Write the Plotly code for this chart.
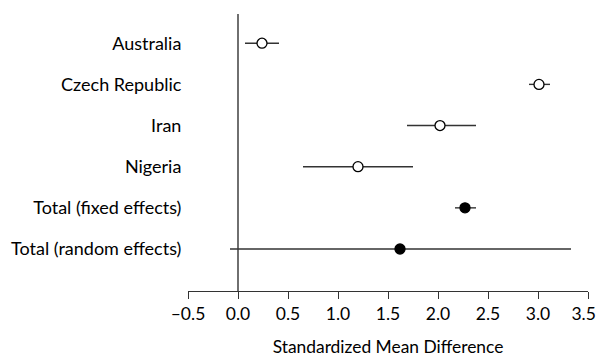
import plotly.graph_objects as go

studies = ["Australia", "Czech Republic", "Iran", "Nigeria",
           "Total (fixed effects)", "Total (random effects)"]
smd = [0.24, 3.01, 2.02, 1.20, 2.27, 1.62]
ci_low = [0.07, 2.91, 1.69, 0.65, 2.17, -0.08]
ci_high = [0.41, 3.12, 2.38, 1.75, 2.38, 3.33]
is_total = [False, False, False, False, True, True]
xticks = [-0.5, 0.0, 0.5, 1.0, 1.5, 2.0, 2.5, 3.0, 3.5]
xticklabels = ["\u20130.5", "0.0", "0.5", "1.0", "1.5", "2.0", "2.5", "3.0", "3.5\u2005\u2005"]

FONT = "Lato, 'Open Sans', sans-serif"
ypos = list(range(len(studies)))

fig = go.Figure()
for i in range(len(studies)):
    fig.add_trace(go.Scatter(
        x=[smd[i]], y=[ypos[i]], mode="markers",
        marker=dict(size=10, symbol="circle",
                    color="black" if is_total[i] else "white",
                    line=dict(color="black", width=1.3)),
        error_x=dict(type="data", symmetric=False,
                     array=[ci_high[i] - smd[i]],
                     arrayminus=[smd[i] - ci_low[i]],
                     width=0, thickness=1.4, color="#333"),
        showlegend=False, hoverinfo="skip", cliponaxis=False))

fig.add_shape(type="line", xref="x", yref="paper", x0=0, x1=0, y0=0, y1=1,
              line=dict(color="#333", width=1.4), layer="below")

fig.update_layout(
    width=597, height=357,
    margin=dict(l=188, r=9, t=14, b=66, autoexpand=False),
    plot_bgcolor="white", paper_bgcolor="white",
    font=dict(family=FONT, size=17, color="black"),
    xaxis=dict(range=[-0.5, 3.5], tickvals=xticks, ticktext=xticklabels,
               showline=True, linecolor="#333", linewidth=1.4,
               ticks="outside", ticklen=7, tickcolor="#333", tickwidth=1.4,
               showgrid=False, zeroline=False, automargin=False,
               ticklabeloverflow="allow",
               tickfont=dict(size=17.5),
               title=dict(text="Standardized Mean Difference", standoff=19,
                          font=dict(size=17.4))),
    yaxis=dict(range=[6.02, -0.71], tickvals=ypos, ticktext=studies,
               showline=False, showgrid=False, zeroline=False, automargin=False,
               tickfont=dict(size=18),
               ticks="outside", ticklen=2, tickcolor="rgba(0,0,0,0)"),
)

fig.write_html("out.html", config={"displayModeBar": False},
               post_script="document.body.style.margin='0';document.body.style.overflow='hidden';")
